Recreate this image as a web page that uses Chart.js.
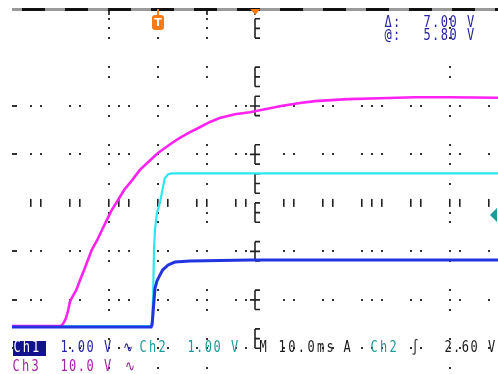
<!DOCTYPE html>
<html>
<head>
<meta charset="utf-8">
<script src="https://cdn.jsdelivr.net/npm/chart.js@4.4.0/dist/chart.umd.min.js"></script>
<style>
  html, body { margin: 0; padding: 0; background: #fff; }
  #scope { display: block; }
</style>
</head>
<body>
<canvas id="scope" width="498" height="374"></canvas>
<script>
// time in ms, 0 = trigger point, 10 ms/div
const timeCh1 = [-30, -1.4, -1.2, -1.0, -0.8, -0.6, -0.2, 0.4, 1.0, 2.1, 3.5, 6.6, 19, 69.9];
const voltsCh1 = [0, 0, 0.05, 0.3, 0.56, 0.8, 0.95, 1.07, 1.18, 1.28, 1.34, 1.36, 1.38, 1.38];

const timeCh2 = [-30, -1.4, -1.2, -1.0, -0.8, -0.6, -0.2, 0.4, 1.0, 1.4, 2.1, 2.9, 69.9];
const voltsCh2 = [0, 0, 0.1, 0.6, 1.6, 2.0, 2.33, 2.54, 2.85, 3.05, 3.13, 3.15, 3.15];

const timeCh3 = [-30, -24.2, -20.1, -19.7, -19.3, -18.9, -18.5, -18.1, -17.7, -16.8, -16.0, -15.2,
  -14.4, -13.6, -12.5, -11.5, -10.5, -9.5, -8.2, -7.0, -5.3, -3.7, -1.6, 0, 2.5, 4.5, 6.6, 8.6,
  10.7, 12.7, 15.8, 18.9, 22.0, 25.3, 29.2, 32.3, 39.0, 45.6, 52.8, 60.0, 69.9];
const voltsCh3 = [0, 0, 0, 0.2, 0.8, 1.65, 3.1, 4.95, 5.8, 7.4, 9.5, 11.5,
  13.6, 15.7, 17.7, 19.8, 21.9, 23.9, 26.0, 28.0, 30.1, 32.2, 34.2, 35.7, 37.5, 38.8, 40.0, 41.0,
  42.1, 42.9, 43.7, 44.1, 44.7, 45.4, 46.0, 46.4, 46.8, 47.0, 47.2, 47.2, 47.1];

// channel settings: V/div and ground position (div from centre)
const voltsPerDiv = { ch1: 1, ch2: 1, ch3: 10 };
const groundDiv = { ch1: -2.56, ch2: -2.54, ch3: -2.54 };

// readouts
const cursorLabels = ['Δ:', '@:'];
const cursorValues = ['7.00 V', '5.80 V'];
const timeBase = 'M 10.0ms';
const triggerLevel = '2.60 V';

// graticule dots as they survive on the screenshot
const dotRows = [2, 1, -1, -2, -3];
const dotCols = [-10, 0, 10, 60];
const rowDotTimes = [-26, -24, -18, -16, -10, -8, -6, 0, 2, 8, 10, 16, 18, 26, 28, 34, 36, 42, 44, 46, 52, 54, 60, 62, 68];
const colDotDivs = [3.8, 3.6, 3.4, 2.8, 2.6, 2.0, 1.8, 1.2, 1.0, 0.8, 0.4, -0.2, -0.4, -1.0, -1.2, -1.8, -2.0, -2.2, -2.8, -3.0, -3.4];
const centreMarks = [3.6, 2.6, 2.0, 1.0, 0.4, -0.2, -1.0, -2.0, -2.8];

const toPoints = (times, volts, ch) =>
  times.map((t, i) => ({ x: t, y: volts[i] / voltsPerDiv[ch] + groundDiv[ch] }));

// draw text with a fixed pitch, narrowed like the scope font
function monoText(ctx, str, x, y, color, pitch = 8.7) {
  ctx.save();
  ctx.fillStyle = color;
  ctx.font = '15px "DejaVu Sans Mono"';
  ctx.textBaseline = 'middle';
  [...str].forEach((c, i) => {
    ctx.save();
    ctx.translate(x + i * pitch, y);
    ctx.scale(0.8, 1);
    ctx.fillText(c, 0, 0);
    ctx.restore();
  });
  ctx.restore();
}

const scopeScreen = {
  id: 'scopeScreen',
  beforeDatasetsDraw(chart) {
    const { ctx, chartArea: a, scales: { x, y } } = chart;
    ctx.save();
    ctx.fillStyle = '#333';

    // dotted graticule
    dotRows.forEach(d => {
      const py = Math.round(y.getPixelForValue(d));
      rowDotTimes.forEach(t => {
        const px = Math.round(x.getPixelForValue(t));
        ctx.fillRect(px - 1, py - 1, 2, 2);
      });
      ctx.fillRect(a.left, py - 1, 5, 2);
    });
    dotCols.forEach(t => {
      const px = Math.round(x.getPixelForValue(t));
      colDotDivs.forEach(d => {
        const py = Math.round(y.getPixelForValue(d));
        ctx.fillRect(px - 1, py - 1, 2, 2);
      });
    });

    // centre horizontal axis: minor ticks
    ctx.fillStyle = '#222';
    const cy = y.getPixelForValue(0);
    rowDotTimes.forEach(t => {
      const px = Math.round(x.getPixelForValue(t));
      ctx.fillRect(px - 1, cy - 4, 1.6, 8);
    });

    // centre vertical axis: short bracket segments with ticks
    const cx = Math.round(x.getPixelForValue(20));
    ctx.strokeStyle = '#222';
    ctx.lineWidth = 1.6;
    centreMarks.forEach(d => {
      const py = y.getPixelForValue(d);
      const step = y.getPixelForValue(d - 0.2) - py;
      ctx.beginPath();
      ctx.moveTo(cx, py - step);
      ctx.lineTo(cx, py + step);
      [-step, 0, step].forEach(s => {
        ctx.moveTo(cx, py + s);
        ctx.lineTo(cx + 5, py + s);
      });
      if (Number.isInteger(d)) {
        ctx.moveTo(cx - 5, py);
        ctx.lineTo(cx, py);
      }
      ctx.stroke();
    });

    // top edge
    ctx.fillStyle = '#9a9a9a';
    ctx.fillRect(a.left, a.top - 1, a.right - a.left, 3);
    ctx.strokeStyle = '#111';
    ctx.lineWidth = 3;
    ctx.setLineDash([23, 20]);
    ctx.lineDashOffset = 33;
    ctx.beginPath();
    ctx.moveTo(a.left, a.top + 0.5);
    ctx.lineTo(a.right, a.top + 0.5);
    ctx.stroke();
    ctx.setLineDash([]);
    ctx.lineWidth = 1.6;
    [-10, 0, 10, 20].forEach(t => {
      const px = Math.round(x.getPixelForValue(t));
      ctx.beginPath();
      ctx.moveTo(px, a.top);
      ctx.lineTo(px, a.top + 6);
      ctx.stroke();
    });
    ctx.restore();
  },
  afterDraw(chart) {
    const { ctx, chartArea: a, scales: { x } } = chart;
    ctx.save();

    // trigger position marker
    const tx = Math.round(x.getPixelForValue(0));
    ctx.fillStyle = '#ff7a10';
    ctx.fillRect(tx - 1, a.top, 2, 8);
    ctx.beginPath();
    ctx.roundRect(tx - 6, a.top + 6, 12, 15, 3);
    ctx.fill();
    ctx.fillStyle = '#fff';
    ctx.font = 'bold 11px "DejaVu Sans"';
    ctx.textAlign = 'center';
    ctx.textBaseline = 'middle';
    ctx.fillText('T', tx, a.top + 14);

    // horizontal centre marker
    const mx = x.getPixelForValue(20);
    ctx.fillStyle = '#ff7a10';
    ctx.beginPath();
    ctx.moveTo(mx - 5, a.top);
    ctx.lineTo(mx + 5, a.top);
    ctx.lineTo(mx, a.top + 6);
    ctx.fill();

    // trigger level marker
    ctx.fillStyle = '#1a9a9a';
    ctx.beginPath();
    ctx.moveTo(490, 215);
    ctx.lineTo(497, 208);
    ctx.lineTo(497, 222);
    ctx.fill();

    // cursor readout
    const navy = '#2424a0';
    const teal = '#1a9a9a';
    const purple = '#a422a4';
    const dark = '#1a1a1a';
    cursorLabels.forEach((lab, i) => {
      monoText(ctx, lab, 388, 23 + i * 13, navy);
      monoText(ctx, cursorValues[i], 427, 23 + i * 13, navy);
    });

    // channel readout
    ctx.fillStyle = '#12128c';
    ctx.fillRect(13, 341, 33, 15);
    monoText(ctx, 'Ch1', 17, 348.5, '#fff', 9.3);
    monoText(ctx, voltsPerDiv.ch1.toFixed(2) + ' V', 64, 348, navy);
    monoText(ctx, '∿', 128, 348, navy);
    monoText(ctx, 'Ch2', 143, 348, teal, 9.5);
    monoText(ctx, voltsPerDiv.ch2.toFixed(2) + ' V', 191, 348, teal);
    monoText(ctx, timeBase, 263, 348, dark, 9.6);
    monoText(ctx, 'A', 347, 348, dark);
    monoText(ctx, 'Ch2', 374, 348, teal, 9.5);
    monoText(ctx, '∫', 415, 348, dark);
    monoText(ctx, triggerLevel, 448, 348, dark);
    monoText(ctx, 'Ch3', 16, 367, purple, 9.5);
    monoText(ctx, voltsPerDiv.ch3.toFixed(1) + ' V', 64, 367, purple);
    monoText(ctx, '∿', 130, 367, purple);
    ctx.restore();
  }
};

new Chart(document.getElementById('scope'), {
  type: 'scatter',
  data: {
    datasets: [
      {
        label: 'Ch1',
        data: toPoints(timeCh1, voltsCh1, 'ch1'),
        showLine: true,
        borderColor: '#2233e0',
        borderWidth: 3,
        pointRadius: 0
      },
      {
        label: 'Ch3',
        data: toPoints(timeCh3, voltsCh3, 'ch3'),
        showLine: true,
        borderColor: '#ff22f0',
        borderWidth: 2.6,
        pointRadius: 0
      },
      {
        label: 'Ch2',
        data: toPoints(timeCh2, voltsCh2, 'ch2'),
        showLine: true,
        borderColor: '#2ee6f2',
        borderWidth: 2.2,
        pointRadius: 0
      }
    ]
  },
  options: {
    responsive: false,
    animation: false,
    devicePixelRatio: 1,
    layout: { padding: { left: 12, top: 9, right: 0, bottom: 0 } },
    plugins: { legend: { display: false }, tooltip: { enabled: false } },
    scales: {
      x: { type: 'linear', min: -30, max: 69.9, display: false },
      y: { type: 'linear', min: -3.53, max: 4, display: false }
    }
  },
  plugins: [scopeScreen]
});
</script>
</body>
</html>
